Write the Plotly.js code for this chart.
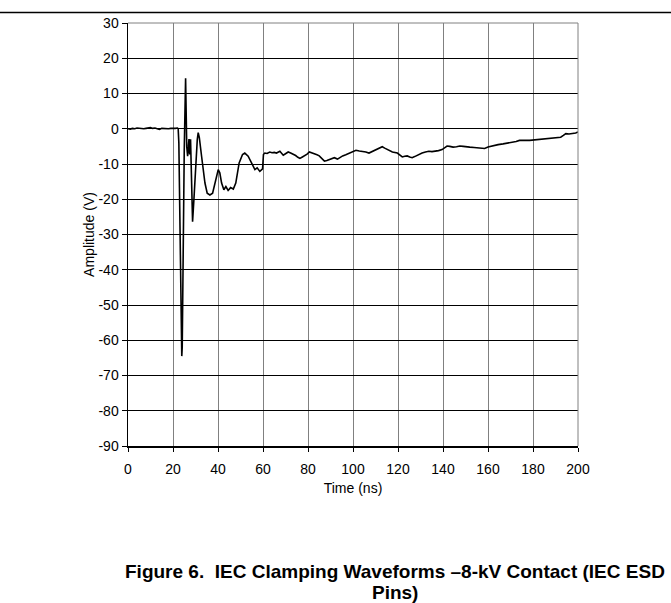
<!DOCTYPE html>
<html>
<head>
<meta charset="utf-8">
<script src="https://cdn.plot.ly/plotly-3.0.1.min.js"></script>
<style>
html,body{margin:0;padding:0;background:#fff;}
#chart{width:671px;height:603px;}
</style>
</head>
<body>
<div id="chart"></div>
<script>
const timeNs = [
  0,1,2,3,4,5,6,7,8,9,10,11,12,13,14,15,16,17,18,19,20,21,22,22.3,
  22.6,23.9,24.1,25.0,25.6,26.1,26.5,27.1,27.4,27.8,28.2,28.7,29.3,30.2,30.8,31.2,31.7,32.7,
  34.2,35.2,36.4,37.6,38.6,40.1,40.8,41.6,42.6,43.5,44.5,45.6,46.8,47.9,49.4,50.9,51.9,
  53.4,54.9,56.4,57.4,58.6,59.8,60.2,60.8,61.8,63.0,64.0,65.0,66.0,67.5,68.3,69.0,70.0,
  71.2,72.3,73.4,74.5,75.5,76.4,77.5,78.6,79.6,80.6,81.7,82.8,84.0,85.0,86.2,87.3,88.4,
  89.5,90.6,91.7,93.1,94.3,95.4,96.8,98.3,99.8,101.3,102.8,104.2,105.7,107.1,108.6,110.1,
  111.5,113.0,114.1,115.2,116.4,117.5,119.7,120.8,121.9,123.0,124.1,125.2,126.3,127.4,128.5,
  129.8,130.7,132.2,133.7,135.1,136.6,138.0,139.6,140.8,141.8,143.0,144.5,146.0,147.5,149.0,
  150.5,151.9,153.8,155.6,157.0,158.5,160.0,161.1,162.2,164.5,166.7,168.8,171.0,172.5,174.0,
  175.5,176.9,178.5,180.0,182.0,184.1,186.3,188.6,190.5,192.3,193.5,194.6,196.0,197.7,199.0,200.0
];
const amplitudeV = [
  0.0,-0.1,0.1,0.0,0.2,0.1,-0.1,0.0,0.1,0.2,0.3,0.1,0.2,0.0,-0.2,0.1,0.0,-0.1,0.0,0.1,0.0,0.1,0.2,0.0,
  -4.0,-64.5,-62.0,-6.0,14.3,-5.0,-7.8,-2.9,-7.3,-3.0,-12.0,-26.4,-20.0,-9.0,-3.0,-1.1,-2.5,-7.8,
  -15.4,-18.3,-18.8,-18.3,-15.4,-11.6,-12.5,-15.4,-17.3,-16.4,-17.5,-16.7,-17.1,-15.4,-9.7,-7.3,-6.9,
  -7.8,-9.7,-11.6,-11.1,-12.1,-11.4,-7.3,-6.9,-7.0,-6.6,-6.8,-6.7,-6.9,-6.4,-6.9,-7.5,-7.1,
  -6.6,-6.9,-7.2,-7.6,-8.1,-8.4,-8.0,-7.7,-7.2,-6.6,-6.8,-7.0,-7.4,-7.7,-8.5,-9.2,-9.0,
  -8.8,-8.4,-8.2,-8.6,-8.1,-7.7,-7.4,-6.9,-6.4,-6.1,-6.3,-6.4,-6.6,-6.9,-6.4,-5.9,
  -5.5,-5.1,-5.5,-5.9,-6.3,-6.6,-6.9,-7.4,-8.0,-7.8,-7.7,-8.0,-8.2,-7.9,-7.5,
  -7.2,-6.9,-6.6,-6.4,-6.5,-6.4,-6.2,-5.9,-5.4,-4.9,-5.0,-5.2,-5.1,-4.9,-5.0,
  -5.2,-5.2,-5.3,-5.4,-5.5,-5.6,-5.2,-5.0,-4.8,-4.5,-4.3,-4.1,-3.8,-3.6,-3.3,
  -3.4,-3.3,-3.3,-3.2,-3.1,-3.0,-2.9,-2.8,-2.6,-2.4,-1.9,-1.4,-1.5,-1.4,-1.2,-0.9
];
const yTickVals = [30,20,10,0,-10,-20,-30,-40,-50,-60,-70,-80,-90];
const yTickText = ["30","20","10","0","-10","-20","-30","-40","-50","-60","-70","-80","-90"];
const xTickVals = [0,20,40,60,80,100,120,140,160,180,200];
const xTickText = ["0","20","40","60","80","100","120","140","160","180","200"];
const xTitle = "Time (ns)";
const yTitle = "Amplitude (V)";
const captionLine1 = "Figure 6.\u00a0 IEC Clamping Waveforms \u20138-kV Contact (IEC ESD";
const captionLine2 = "Pins)";

const font = "Arial, 'Liberation Sans', sans-serif";

const trace = {
  x: timeNs, y: amplitudeV, type: "scatter", mode: "lines",
  line: {color: "#000", width: 1.6}, hoverinfo: "skip"
};

const layout = {
  width: 671, height: 603,
  margin: {l: 128, r: 92.5, t: 23, b: 157},
  paper_bgcolor: "#fff", plot_bgcolor: "#fff",
  showlegend: false,
  font: {family: font, size: 14, color: "#000"},
  xaxis: {
    range: [0, 200], tickmode: "array", tickvals: xTickVals, ticktext: xTickText,
    showgrid: true, gridcolor: "#808080", gridwidth: 1,
    zeroline: false, showline: true, linecolor: "#000", linewidth: 1.5,
    ticks: "outside", ticklen: 4, tickcolor: "#000", tickwidth: 1,
    ticklabelstandoff: 6,
    tickfont: {family: font, size: 14, color: "#000"},
    title: {text: xTitle, font: {family: font, size: 14, color: "#000"}, standoff: 7},
    fixedrange: true
  },
  yaxis: {
    range: [-90, 30], tickmode: "array", tickvals: yTickVals, ticktext: yTickText,
    showgrid: true, gridcolor: "#000", gridwidth: 1,
    zeroline: false, showline: true, linecolor: "#000", linewidth: 1.5,
    ticks: "outside", ticklen: 5, tickcolor: "#000", tickwidth: 1,
    tickfont: {family: font, size: 14, color: "#000"},
    title: {text: yTitle, font: {family: font, size: 14, color: "#000"}, standoff: 0},
    fixedrange: true
  },
  shapes: [
    {type: "line", xref: "paper", yref: "paper", x0: 0, x1: 1, y0: 1, y1: 1, line: {color: "#808080", width: 1}},
    {type: "line", xref: "paper", yref: "paper", x0: 1, x1: 1, y0: 0, y1: 1, line: {color: "#808080", width: 1}},
    {type: "line", xref: "paper", yref: "paper", x0: -0.3, x1: 1.25, y0: 1.0248, y1: 1.0248, line: {color: "#000", width: 1.5}}
  ],
  annotations: [
    {xref: "paper", yref: "paper", x: 0.5927, y: (446 - 571) / 423, xanchor: "center", yanchor: "middle",
     showarrow: false, text: "<b>" + captionLine1 + "</b>",
     font: {family: font, size: 19, color: "#000"}},
    {xref: "paper", yref: "paper", x: 0.5927, y: (446 - 592) / 423, xanchor: "center", yanchor: "middle",
     showarrow: false, text: "<b>" + captionLine2 + "</b>",
     font: {family: font, size: 19, color: "#000"}}
  ]
};

Plotly.newPlot("chart", [trace], layout, {staticPlot: true, displayModeBar: false});
</script>
</body>
</html>
